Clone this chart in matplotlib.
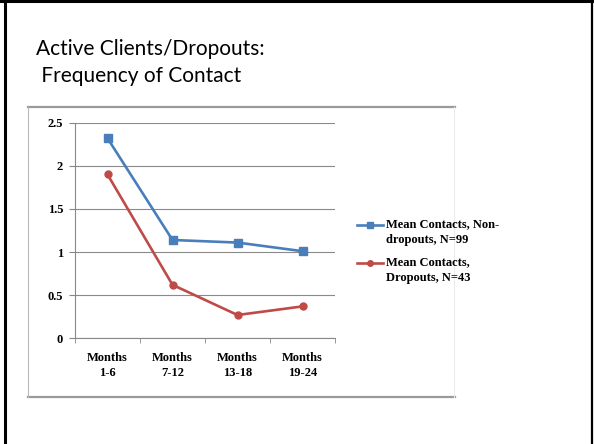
import matplotlib
matplotlib.use("Agg")
import matplotlib.pyplot as plt
from matplotlib.lines import Line2D

# data
categories = ["Months\n1-6", "Months\n7-12", "Months\n13-18", "Months\n19-24"]
non_dropouts = [2.32, 1.14, 1.11, 1.01]
dropouts = [1.90, 0.62, 0.27, 0.37]
labels = ["Mean Contacts, Non-\ndropouts, N=99", "Mean Contacts,\nDropouts, N=43"]
yticks = [0, 0.5, 1, 1.5, 2, 2.5]

blue = "#4A7EBB"
red = "#BE4B48"
tick_font = dict(family="Liberation Serif", weight="bold", size=9)

W, H = 594, 444
fig = plt.figure(figsize=(W / 100, H / 100), dpi=100)

def fx(px):
    return px / W

def fy(py):
    return 1 - py / H

# slide frame
fig.add_artist(Line2D([fx(5), fx(5)], [0, 1], color="black", lw=2.2, transform=fig.transFigure))
fig.add_artist(Line2D([fx(592), fx(592)], [0, 1], color="black", lw=1.6, transform=fig.transFigure))
fig.add_artist(Line2D([0, 1], [fy(1), fy(1)], color="black", lw=2.2, transform=fig.transFigure))

# title
fig.text(fx(36), fy(55), "Active Clients/Dropouts:", family="Lato", size=15, va="baseline")
fig.text(fx(36), fy(82), " Frequency of Contact", family="Lato", size=15, va="baseline")

# chart box
fig.add_artist(Line2D([fx(28), fx(455)], [fy(107), fy(107)], color="#9a9a9a", lw=1.6, transform=fig.transFigure))
fig.add_artist(Line2D([fx(28), fx(455)], [fy(397), fy(397)], color="#9a9a9a", lw=1.6, transform=fig.transFigure))
fig.add_artist(Line2D([fx(28), fx(28)], [fy(107), fy(397)], color="#b8b8b8", lw=0.8, transform=fig.transFigure))
fig.add_artist(Line2D([fx(454), fx(454)], [fy(107), fy(397)], color="#ececec", lw=0.8, transform=fig.transFigure))

ax = fig.add_axes([fx(75), fy(338.3), fx(335) - fx(75), fy(122.7) - fy(338.3)])
x = list(range(len(categories)))
ax.plot(x, non_dropouts, color=blue, lw=1.9, marker="s", ms=5.5, label=labels[0])
ax.plot(x, dropouts, color=red, lw=1.9, marker="o", ms=5, label=labels[1])

ax.set_xlim(-0.5, len(categories) - 0.5)
ax.set_ylim(0, 2.5)
ax.set_yticks(yticks)
ax.set_yticklabels([f"{v:g}" for v in yticks], **tick_font)
ax.set_xticks(x)
ax.set_xticklabels(categories, linespacing=1.3, **tick_font)
ax.set_xticks([i - 0.5 for i in range(len(categories) + 1)], minor=True)
ax.tick_params(axis="x", which="major", length=0, pad=10)
ax.tick_params(axis="x", which="minor", length=3.5, color="#888888", direction="out")
ax.tick_params(axis="y", length=4.5, color="#888888", pad=4)
ax.grid(axis="y", color="#8a8a8a", lw=0.8)
ax.set_axisbelow(True)
for side in ["top", "right"]:
    ax.spines[side].set_visible(False)
ax.spines["left"].set_color("#888888")
ax.spines["bottom"].set_color("#888888")

# legend drawn by hand so the handle sits at the first text line
legend_rows = [(blue, "s", 5.5, labels[0], 225), (red, "o", 5, labels[1], 263)]
for color, mk, ms, text, py in legend_rows:
    fig.add_artist(Line2D([fx(357), fx(383)], [fy(py), fy(py)], color=color, lw=1.9, transform=fig.transFigure))
    fig.add_artist(Line2D([fx(370)], [fy(py)], color=color, marker=mk, ms=ms - 1, transform=fig.transFigure))
    fig.text(fx(386), fy(py - 7), text, va="top", ha="left", linespacing=1.45, **tick_font)

fig.savefig("out.png", dpi=100)
